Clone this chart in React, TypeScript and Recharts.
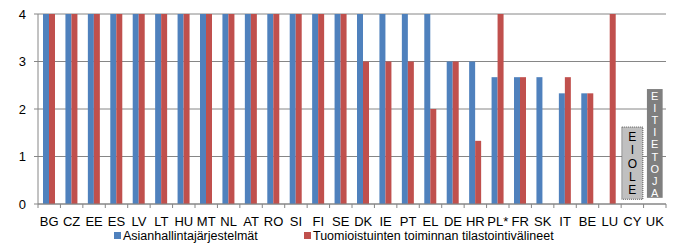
import React from 'react';
import { BarChart, Bar, XAxis, YAxis, CartesianGrid, Legend, ReferenceArea } from 'recharts';

const categories = ['BG','CZ','EE','ES','LV','LT','HU','MT','NL','AT','RO','SI','FI','SE','DK','IE','PT','EL','DE','HR','PL*','FR','SK','IT','BE','LU','CY','UK'];
const caseManagement = [4,4,4,4,4,4,4,4,4,4,4,4,4,4,4,4,4,4,3,3,2.67,2.67,2.67,2.33,2.33,0,null,null];
const courtStatistics = [4,4,4,4,4,4,4,4,4,4,4,4,4,4,3,3,3,2,3,1.33,4,2.67,0,2.67,2.33,4,null,null];
const yTicks = [0,1,2,3,4];
const seriesNames = ['Asianhallintajärjestelmät','Tuomioistuinten toiminnan tilastointivälineet'];
const noteCY = { category: 'CY', text: 'EI OLE', y1: 0.1, y2: 1.62 };
const noteUK = { category: 'UK', text: 'EI TIETOJA', y1: 0.13, y2: 2.42 };

const data = categories.map((c, i) => ({ name: c, a: caseManagement[i], b: courtStatistics[i] }));

const BLUE = '#4f81bd';
const RED = '#c0504d';
const GRID = '#868686';
const FONT = '"Liberation Sans", Arial, sans-serif';

const XTick = (props: any) => {
  const { x, y, payload, index } = props;
  const off = (payload && payload.offset) || 11.2;
  return (
    <g>
      <line x1={x - off} y1={y} x2={x - off} y2={y + 4} stroke={GRID} />
      {index === categories.length - 1 && <line x1={x + off} y1={y} x2={x + off} y2={y + 4} stroke={GRID} />}
      <text x={x} y={y + 22} textAnchor="middle" fill="#000" fontSize={13} fontFamily={FONT}>{payload.value}</text>
    </g>
  );
};

const makeBox = (text: string, fill: string, color: string, inset: number, fontSize: number, firstOffset: number, step: number, dashed: boolean) => (props: any) => {
  const { x, y, width, height } = props;
  const letters = text.replace(/ /g, '').split('');
  const cx = x + width / 2;
  const w = width - inset * 2;
  return (
    <g>
      <rect x={cx - w / 2} y={y} width={w} height={height} fill={fill} stroke={dashed ? '#555' : 'none'} strokeDasharray={dashed ? '1 1' : undefined} />
      <text x={cx} y={y + firstOffset} textAnchor="middle" fill={color} fontSize={fontSize} fontFamily={FONT}>
        {letters.map((l, i) => (
          <tspan key={i} x={cx} dy={i === 0 ? 0 : step}>{l}</tspan>
        ))}
      </text>
    </g>
  );
};

const LegendContent = () => (
  <div style={{ position: 'relative', width: 681, height: 20, fontFamily: FONT, fontSize: 12.5, color: '#000' }}>
    {seriesNames.map((n, i) => (
      <div key={n} style={{ position: 'absolute', left: i === 0 ? 114 : 304, top: 2, display: 'flex', alignItems: 'center', height: 15, whiteSpace: 'nowrap' }}>
        <span style={{ display: 'inline-block', width: 7, height: 7, background: i === 0 ? BLUE : RED, marginRight: 2 }} />
        <span>{n}</span>
      </div>
    ))}
  </div>
);

export default function App() {
  return (
    <div style={{ position: 'absolute', left: 0, top: 0, width: 681, height: 246, background: '#fff' }}>
      <BarChart width={681} height={246} data={data} margin={{ top: 14, right: 15, left: 0, bottom: 0 }} barGap={0} barSize={6}>
        <CartesianGrid vertical={false} stroke={GRID} />
        <XAxis dataKey="name" axisLine={{ stroke: GRID }} tickLine={false} tickSize={0} tickMargin={0} height={22} interval={0} tick={<XTick />} />
        <YAxis domain={[0, 4]} ticks={yTicks} width={38} axisLine={{ stroke: GRID }} tickLine={{ stroke: GRID }} tickSize={4} tickMargin={8} tick={{ fill: '#000', fontSize: 13, fontFamily: FONT }} />
        <Bar dataKey="a" name={seriesNames[0]} fill={BLUE} isAnimationActive={false} />
        <Bar dataKey="b" name={seriesNames[1]} fill={RED} isAnimationActive={false} />
        <ReferenceArea x1={noteCY.category} x2={noteCY.category} y1={noteCY.y1} y2={noteCY.y2} shape={makeBox(noteCY.text, '#c0c0c0', '#000', 0.7, 12, 14, 13.3, true)} />
        <ReferenceArea x1={noteUK.category} x2={noteUK.category} y1={noteUK.y1} y2={noteUK.y2} shape={makeBox(noteUK.text, '#7f7f7f', '#fff', 3.35, 11, 11, 12.1, false)} />
        <Legend verticalAlign="bottom" content={<LegendContent />} />
      </BarChart>
    </div>
  );
}
